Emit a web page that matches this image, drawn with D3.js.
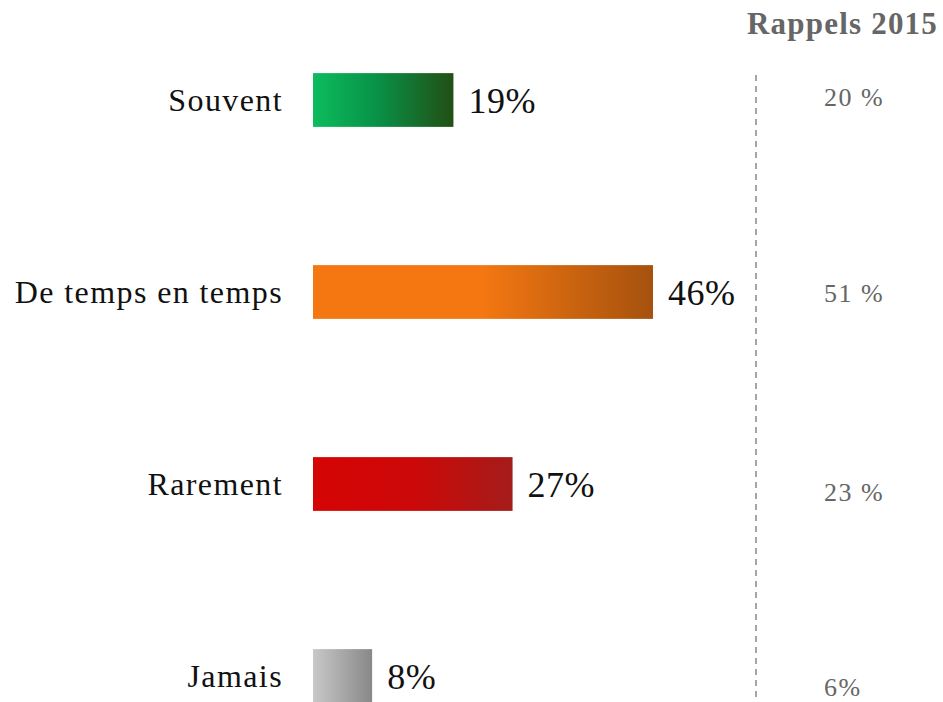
<!DOCTYPE html>
<html><head><meta charset="utf-8">
<script src="https://cdn.jsdelivr.net/npm/d3@7"></script>
<style>body{margin:0;background:#fff}svg{display:block}</style>
</head><body>
<svg id="c" width="943" height="702"></svg>
<script>
const categories = ["Souvent", "De temps en temps", "Rarement", "Jamais"];
const values = [19, 46, 27, 8];
const valueLabels = ["19%", "46%", "27%", "8%"];
const recall = ["20 %", "51 %", "23 %", "6%"];
const recallTitle = "Rappels 2015";
const gradients = [
  [["0%", "#0cbc5e"], ["45%", "#089248"], ["100%", "#224f14"]],
  [["0%", "#f47711"], ["50%", "#f47711"], ["100%", "#a5520e"]],
  [["0%", "#d60404"], ["50%", "#cc0808"], ["100%", "#a41c1a"]],
  [["0%", "#c8c8c8"], ["100%", "#888888"]]
];
const recallShift = [-3, 1, 8, 11];

const svg = d3.select("#c");
const font = "'Liberation Serif', serif";
const x0 = 313;
const x = d3.scaleLinear().domain([0, 46]).range([x0, 653]);
const y = d3.scaleBand().domain(categories).range([4, 772]).paddingInner(0.72).paddingOuter(0.36);

const defs = svg.append("defs");
gradients.forEach((g, i) => {
  const lg = defs.append("linearGradient").attr("id", "g" + i).attr("x1", "0%").attr("x2", "100%").attr("y1", "0%").attr("y2", "0%");
  g.forEach(s => lg.append("stop").attr("offset", s[0]).attr("stop-color", s[1]));
});

const rows = svg.selectAll("g.row").data(categories).join("g").attr("class", "row");
rows.append("rect")
  .attr("x", x0)
  .attr("y", d => y(d))
  .attr("width", (d, i) => x(values[i]) - x0)
  .attr("height", y.bandwidth())
  .attr("fill", (d, i) => `url(#g${i})`);
rows.append("text")
  .attr("x", 283).attr("y", d => y(d) + y.bandwidth() / 2)
  .attr("dy", "0.35em").attr("text-anchor", "end")
  .attr("font-family", font).attr("font-size", 32).attr("letter-spacing", 1.4).attr("fill", "#111")
  .text(d => d);
rows.append("text")
  .attr("x", (d, i) => x(values[i]) + 15).attr("y", d => y(d) + y.bandwidth() / 2)
  .attr("dy", "0.35em")
  .attr("font-family", font).attr("font-size", 36).attr("letter-spacing", 0.5).attr("fill", "#111")
  .text((d, i) => valueLabels[i]);
rows.append("text")
  .attr("x", 824).attr("y", (d, i) => y(d) + y.bandwidth() / 2 + recallShift[i])
  .attr("dy", "0.35em")
  .attr("font-family", font).attr("font-size", 26).attr("letter-spacing", 1.5).attr("fill", "#666")
  .text((d, i) => recall[i]);

svg.append("line").attr("x1", 756).attr("x2", 756).attr("y1", 75).attr("y2", 702)
  .attr("stroke", "#888").attr("stroke-width", 1.5).attr("stroke-dasharray", "6,5");
svg.append("text").attr("x", 938).attr("y", 34).attr("text-anchor", "end")
  .attr("font-family", font).attr("font-size", 31).attr("font-weight", "bold").attr("letter-spacing", 1.2).attr("fill", "#666")
  .text(recallTitle);
</script>
</body></html>
